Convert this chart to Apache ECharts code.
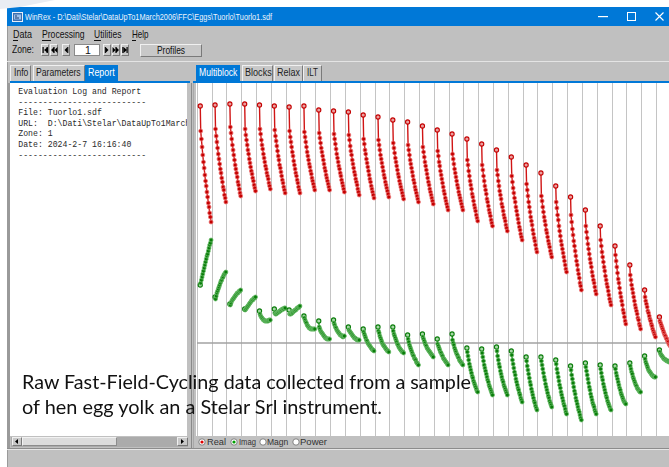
<!DOCTYPE html>
<html><head><meta charset="utf-8">
<script src="https://cdn.jsdelivr.net/npm/echarts@6/dist/echarts.min.js"></script>
<style>
html,body{margin:0;padding:0;}
body{width:669px;height:467px;overflow:hidden;position:relative;background:#fff;font-family:"Liberation Sans",Arial,sans-serif;}
.a{position:absolute;box-sizing:border-box;}
svg{display:block;}
</style></head><body>
<div id="chart" class="a" style="left:197px;top:83px;width:474px;height:353px;z-index:2"></div>
<script>
// ---- Real (red) blocks: first point, then 16 decay points ----
const R0=[237,212,204,196,188,181,175,168,162,157,151,146,140,136,130,126,121];
const R1=[238,214,207,201,195,189,184,179,174,170,165,161,156,153,148,145,141];
const R2=[239,216,210,204,198,193,188,183,178,174,170,166,161,158,154,150,147];
const R3=[239,214,208,203,198,193,189,184,180,176,172,169,165,162,158,155,152];
const R4=[238,214,209,203,198,194,189,185,181,177,174,170,167,164,160,157,154];
const R5=[237,213,207,202,197,192,187,183,178,175,171,167,163,160,156,153,150];
const R6=[236,212,206,201,196,191,187,182,178,174,170,167,163,160,156,153,150];
const R7=[237,211,206,201,196,191,187,183,179,176,172,169,165,162,159,156,153];
const R8=[233,210,205,200,195,191,187,183,179,175,172,168,165,162,159,156,153];
const R9=[232,209,204,199,194,189,185,181,177,174,170,167,163,160,157,154,151];
const R10=[231,208,203,197,192,188,183,179,175,171,168,164,161,158,154,151,148];
const R11=[228,204,199,193,189,184,180,176,172,168,164,161,157,154,151,148,145];
const R12=[226,203,198,193,188,184,180,176,172,168,165,161,158,155,152,149,146];
const R13=[223,200,195,190,185,181,177,173,169,166,162,159,156,153,150,147,144];
const R14=[221,198,193,188,183,179,175,171,167,163,160,156,153,150,147,144,141];
const R15=[217,196,191,186,181,177,173,169,165,161,158,154,151,148,145,142,139];
const R16=[213,192,187,181,177,172,168,164,160,156,152,149,145,142,139,136,133];
const R17=[209,189,184,179,174,170,166,162,158,155,151,148,145,142,139,136,133];
const R18=[204,183,178,172,167,162,158,154,149,146,142,138,135,132,128,125,122];
const R19=[199,178,173,167,162,157,153,149,144,141,137,133,130,127,123,120,117];
const R20=[193,173,168,162,157,152,148,144,139,136,132,128,125,122,118,115,112];
const R21=[186,167,161,155,150,145,141,136,132,128,124,120,116,113,109,106,103];
const R22=[178,159,153,147,141,136,131,126,122,118,113,109,105,102,98,94,91];
const R23=[170,147,142,136,131,126,122,118,113,110,106,102,99,96,92,89,86];
const R24=[157,141,135,128,123,117,112,107,102,98,94,90,86,82,78,74,71];
const R25=[146,128,121,114,108,102,97,92,87,82,78,73,69,65,60,57,53];
const R26=[133,117,111,105,99,94,89,84,80,76,71,67,63,60,56,52,49];
const R27=[117,103,97,91,86,81,76,72,67,63,59,56,52,48,44,41,38];
const R28=[97,88,82,76,70,64,60,55,50,46,42,38,33,30,26,22,19];
const R29=[78,68,63,58,54,50,46,42,38,35,32,29,25,23,19,17,14];
const R30=[53,46,42,39,36,32,30,27,24,22,19,17,14,12,10,8,6];
const R31=[26,22,20,18,16,14,12,10,8,7,5,4,2,1,-1,-2,-3];
// ---- Imag (green) blocks ----
const G0=[58,60,63,66,69,72,75,78,81,84,87,89,92,95,98,100,103];
const G1=[46,44,47,50,52,54,56,58,60,62,63,65,66,68,69,70,71];
const G2=[39,38,40,42,43,44,45,46,47,48,49,50,50,51,52,52,53];
const G3=[34,33,34,35,36,37,38,39,40,41,42,43,43,44,45,45,46];
const G4=[32,29,27,26,25,24,23,23,22,22,22,22,22,22,23,23,23];
const G5=[34,30,29,29,30,30,31,31,32,32,33,33,34,34,34,35,35];
const G6=[33,29,29,29,30,30,31,32,32,33,33,34,35,35,36,36,37];
const G7=[27,25,23,21,20,18,17,16,15,15,14,14,14,14,14,14,14];
const G8=[22,16,14,12,11,10,9,8,7,6,5,5,4,4,4,4,4];
const G9=[23,20,18,16,15,13,12,11,10,9,8,8,7,7,6,7,7];
const G10=[16,13,12,11,10,9,8,7,6,5,5,4,4,3,3,3,3];
const G11=[14,11,9,7,5,3,2,0,-1,-2,-3,-4,-5,-6,-7,-7,-8];
const G12=[16,12,10,7,5,3,1,-1,-2,-3,-4,-5,-6,-7,-8,-8,-9];
const G13=[16,12,9,7,5,3,1,-1,-2,-4,-5,-6,-7,-8,-9,-9,-10];
const G14=[8,4,1,-2,-4,-6,-8,-10,-12,-13,-15,-16,-17,-19,-20,-21,-22];
const G15=[9,6,4,2,0,-2,-3,-5,-6,-7,-8,-9,-10,-11,-12,-13,-14];
const G16=[4,-1,-3,-5,-7,-9,-10,-12,-13,-15,-16,-17,-18,-19,-20,-21,-22];
const G17=[9,3,0,-2,-5,-7,-9,-11,-12,-14,-15,-17,-18,-19,-20,-21,-22];
const G18=[-5,-9,-13,-17,-21,-24,-27,-30,-33,-35,-38,-40,-42,-44,-46,-48,-49];
const G19=[-6,-10,-14,-18,-22,-25,-28,-31,-34,-37,-39,-42,-44,-46,-48,-50,-52];
const G20=[-4,-8,-13,-17,-21,-24,-28,-31,-34,-37,-39,-42,-44,-46,-48,-50,-52];
const G21=[-8,-12,-17,-21,-25,-29,-32,-36,-39,-42,-45,-47,-50,-52,-55,-57,-59];
const G22=[-14,-18,-23,-27,-31,-35,-39,-42,-46,-49,-52,-55,-58,-60,-63,-65,-67];
const G23=[-14,-18,-22,-26,-30,-34,-37,-41,-44,-47,-50,-53,-55,-58,-60,-62,-64];
const G24=[-17,-21,-26,-30,-34,-38,-42,-45,-49,-52,-55,-58,-61,-63,-66,-69,-71];
const G25=[-23,-27,-32,-36,-40,-44,-48,-51,-55,-58,-61,-64,-67,-69,-72,-75,-77];
const G26=[-20,-24,-28,-32,-36,-40,-44,-47,-51,-54,-57,-60,-62,-64,-67,-69,-71];
const G27=[-22,-26,-30,-34,-37,-41,-44,-47,-50,-53,-55,-58,-60,-62,-64,-66,-67];
const G28=[-23,-26,-30,-33,-36,-39,-42,-45,-47,-50,-52,-54,-56,-58,-59,-60,-61];
const G29=[-20,-23,-26,-29,-31,-34,-36,-38,-40,-42,-43,-45,-46,-47,-48,-49,-49];
const G30=[-13,-16,-19,-21,-23,-25,-27,-28,-29,-30,-31,-32,-33,-33,-34,-34,-34];
const G31=[-7,-9,-11,-12,-13,-14,-15,-16,-16,-17,-17,-18,-18,-18,-19,-19,-19];

const realBlocks=[R0,R1,R2,R3,R4,R5,R6,R7,R8,R9,R10,R11,R12,R13,R14,R15,R16,R17,R18,R19,R20,R21,R22,R23,R24,R25,R26,R27,R28,R29,R30,R31];
const imagBlocks=[G0,G1,G2,G3,G4,G5,G6,G7,G8,G9,G10,G11,G12,G13,G14,G15,G16,G17,G18,G19,G20,G21,G22,G23,G24,G25,G26,G27,G28,G29,G30,G31];
const blockCount=32;

// ---------- UI helpers ----------
function B(x,y,w,h,css){const d=document.createElement('div');d.className='a';d.style.cssText+=`left:${x}px;top:${y}px;width:${w}px;height:${h}px;`+(css||'');document.body.appendChild(d);return d;}
function T(txt,x,cy,w,size,color,fam,extra){const s=document.createElement('span');s.textContent=txt;
 s.style.cssText=`position:absolute;left:${x}px;top:${cy-size/2}px;font-size:${size}px;line-height:${size}px;font-family:${fam||'"Liberation Sans",Arial,sans-serif'};color:${color||'#000'};white-space:nowrap;transform-origin:0 50%;z-index:5;`+(extra||'');
 document.body.appendChild(s);if(w){const cw=s.getBoundingClientRect().width;if(cw>0)s.style.transform=`scaleX(${w/cw})`;}return s;}
function S(x,y,w,h,inner,z){const d=document.createElement('div');d.className='a';d.style.cssText=`left:${x}px;top:${y}px;width:${w}px;height:${h}px;z-index:${z||5};line-height:0;`;d.innerHTML=`<svg width="${w}" height="${h}" xmlns="http://www.w3.org/2000/svg">${inner}</svg>`;document.body.appendChild(d);return d;}
const raised='background:#c8c8c8;border-top:1px solid #f0f0f0;border-left:1px solid #f0f0f0;border-right:1px solid #7a7a7a;border-bottom:1px solid #7a7a7a;';

// slide decoration
S(0,0,60,10,'<polygon points="0,0 55,0 20,7 0,9" fill="#e9edf3"/>',0);
// window base
B(7,7,670,460,'background:#c0c0c0;border-left:1px solid #9a9a9a;');
// title bar
B(7,7,670,19,'background:#0078d7;');
S(12,12,11,10,'<rect x="0.5" y="0.5" width="10" height="9" fill="#3a6fb0" stroke="#e8eef8"/><rect x="2" y="2.5" width="7" height="5" fill="#9cc0ea"/><path d="M3,4h2M3,6h4" stroke="#1a3d70"/>');
T('WinRex - D:\\Dati\\Stelar\\DataUpTo1March2006\\FFC\\Eggs\\Tuorlo\\Tuorlo1.sdf',25,16.5,247,9.5,'#eef4fb');
S(598,16,10,2,'<rect x="0" y="0" width="10" height="1.2" fill="#fff"/>');
S(627,12,10,10,'<rect x="0.5" y="0.5" width="8" height="8" fill="none" stroke="#fff"/>');
S(655,12,10,10,'<path d="M0.5,0.5L8.5,8.5M8.5,0.5L0.5,8.5" stroke="#fff" stroke-width="1.1"/>');
// menu
[['Data',13,19],['Processing',41.7,42.6],['Utilities',94.3,27.4],['Help',131.7,16.6]].forEach(m=>{T(m[0],m[1],34,m[2],10.5,'#111');B(m[1],39.5,m[2]*0.2+1,1,'background:#111;z-index:6');});
// zone row
T('Zone:',12,49.5,22,10.5,'#111');
function navBtn(x,glyph){B(x,44,8,12,raised);S(x,44,8,12,glyph);}
navBtn(41,'<rect x="1.5" y="3" width="1.2" height="6" fill="#000"/><path d="M7,3L3,6L7,9Z" fill="#000"/><rect x="5.5" y="3" width="1.2" height="6" fill="#000"/>');
navBtn(50,'<path d="M4,3L1,6L4,9Z M7.5,3L4.5,6L7.5,9Z" fill="#000"/><rect x="3.6" y="3" width="1" height="6" fill="#000"/>');
navBtn(62,'<path d="M5.5,3L2.5,6L5.5,9Z" fill="#000"/><rect x="5.3" y="3" width="1" height="6" fill="#000"/>');
B(74,44,26,12,'background:#fff;border:1px solid #8a8a8a;');
T('1',85,50,0,10.5,'#111');
navBtn(103,'<path d="M2.5,3L5.5,6L2.5,9Z" fill="#000"/><rect x="1.8" y="3" width="1" height="6" fill="#000"/>');
navBtn(112,'<path d="M0.5,3L3.5,6L0.5,9Z M4,3L7,6L4,9Z" fill="#000"/><rect x="3.4" y="3" width="1" height="6" fill="#000"/>');
navBtn(121,'<rect x="1.3" y="3" width="1.2" height="6" fill="#000"/><path d="M2.5,3L6,6L2.5,9Z" fill="#000"/><rect x="5.5" y="3" width="1.2" height="6" fill="#000"/>');
B(140,44,62,13,raised);
T('Profiles',157,50.5,28,10.5,'#111');
B(7,61,670,1,'background:#e4e4e4;');
// left tabs
B(10,64.5,21,17,raised+'border-bottom:none;');T('Info',14,72.5,14.3,10,'#222');
B(32.5,64.5,52,17,raised+'border-bottom:none;');T('Parameters',36,72.5,44.7,10,'#222');
B(85.3,64.5,33,17,'background:#0078d7;');T('Report',88.3,72.5,26.7,10,'#fff');
B(10,81,179.5,2.3,'background:#0078d7;');
// right tabs
B(196,65,44,17,'background:#0078d7;');T('Multiblock',198.7,73,38.3,10,'#fff');
B(242,65,31,17,raised+'border-bottom:none;');T('Blocks',245,73,26.7,10,'#222');
B(274,65,29,17,raised+'border-bottom:none;');T('Relax',277,73,23,10,'#222');
B(303,65,19,17,raised+'border-bottom:none;');T('ILT',307,73,11,10,'#222');
B(193,81,480,2.3,'background:#0078d7;');
// left panel
B(8,83.3,2,365,'background:#9a9a9a;');
const rep=B(10,83.3,177,353,'background:#fff;overflow:hidden;');
B(190.7,83,1.6,365,'background:#8a8a8a;');
B(193.3,83,1,365,'background:#a8a8a8;');
const repLines=['Evaluation Log and Report','--------------------------','File: Tuorlo1.sdf','URL:  D:\\Dati\\Stelar\\DataUpTo1March2006\\FFC\\Eggs\\Tuorlo\\Tuorlo1.sdf','Zone: 1','Date: 2024-2-7 16:16:40','--------------------------'];
repLines.forEach((l,i)=>{const s=document.createElement('span');s.textContent=l;s.style.cssText=`position:absolute;left:8.3px;top:${9-5.3+i*10.6}px;font:8.2px/10.6px "Liberation Mono","DejaVu Sans Mono",monospace;color:#2a2a2a;white-space:pre;`;rep.appendChild(s);});
// left scrollbar
B(11,436.5,177,10,'background:#ababab;');
B(12,437,10,9,raised);S(12,437,10,9,'<path d="M6,2L3,4.5L6,7Z" fill="#000"/>');
B(22,437,95,9,'background:#dcdcdc;border:1px solid #f2f2f2;border-right-color:#8c8c8c;border-bottom-color:#8c8c8c;');
B(177,437,11,9,raised);S(177,437,11,9,'<path d="M4,2L7,4.5L4,7Z" fill="#000"/>');
// plot backgrounds
B(196,83.3,480,353,'background:#fff;');
B(7,447.5,670,1.2,'background:#8c8c8c;z-index:1');
B(7,448.7,670,1,'background:#e6e6e6;z-index:1');
// radio row
function radio(x,fill){S(x,437.5,8,8,`<circle cx="4" cy="4" r="3.2" fill="#fff" stroke="#777" stroke-width="0.9"/>`+(fill?`<circle cx="4" cy="4" r="1.6" fill="${fill}"/>`:''));}
radio(197.5,'#e00000');T('Real',207,441.5,19,9.5,'#333');
radio(229.5,'#00a000');T('Imag',239,441.5,17,9.5,'#333');
radio(258.5,null);T('Magn',267,441.5,21.3,9.5,'#333');
radio(291.5,null);T('Power',300,441.5,27,9.5,'#333');
// overlay caption
function cap(txt,top,w){const s=T(txt,22,0,0,20,'#111','Lato,"Open Sans",sans-serif');s.style.top=top+'px';s.style.zIndex=10;const cw=s.getBoundingClientRect().width;s.style.transform=`scaleX(${w/cw})`;}
cap('Raw Fast-Field-Cycling data collected from a sample',371.3,449);
cap('of hen egg yolk an a Stelar Srl instrument.',396.3,360);

// ---------- chart ----------
function xPos(k,j){return k+(j===0?0.22:0.25+(j-1)*0.7/15);}
function mk(block,k,line,fill,halo,firstFill){
 return {type:'line',silent:true,clip:true,symbol:'circle',symbolSize:4,
  lineStyle:{color:line,width:1.4},
  itemStyle:{color:fill,borderColor:halo,borderWidth:0.9},
  data:block.map((v,j)=>j===0?{value:[xPos(k,j),v],symbolSize:4.2,itemStyle:{color:firstFill,borderColor:fill,borderWidth:1.1}}:[xPos(k,j),v])};
}
const series=[];
realBlocks.forEach((b,k)=>series.push(mk(b,k,'#d01515','#c40000','rgba(236,120,120,0.85)','#eba0a0')));
imagBlocks.forEach((b,k)=>series.push(mk(b,k,'#138f13','#0a7d0a','rgba(110,190,110,0.85)','#a8d8a8')));
const chart=echarts.init(document.getElementById('chart'),null,{renderer:'canvas'});
chart.setOption({animation:false,
 grid:{left:0,right:0,top:0,bottom:0,containLabel:false},
 xAxis:{type:'value',min:0,max:blockCount,interval:1,
  axisLine:{show:true,onZero:true,lineStyle:{color:'#a2a2a2',width:1.5}},
  axisTick:{show:false},axisLabel:{show:false},
  splitLine:{show:true,lineStyle:{color:'#c4c4c4',width:1}}},
 yAxis:{type:'value',min:-93,max:260,axisLine:{show:false},axisTick:{show:false},axisLabel:{show:false},splitLine:{show:false}},
 series:series});
</script>
</body></html>
